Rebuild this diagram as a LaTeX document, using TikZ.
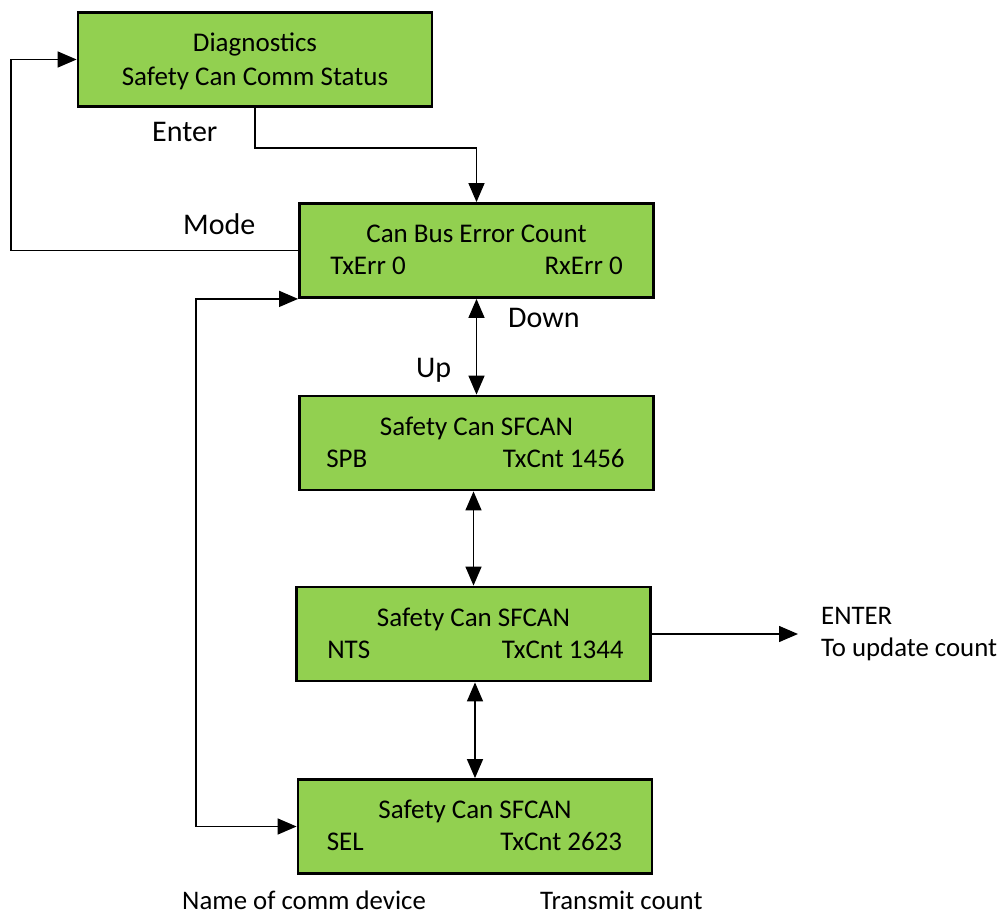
\documentclass[tikz,border=0pt]{standalone}
\usepackage{fontspec}
\setmainfont{Carlito}
\usetikzlibrary{arrows.meta,calc}
\definecolor{boxgreen}{HTML}{92D050}
\begin{document}
\begin{tikzpicture}[x=1pt,y=-1pt,
  box/.style={draw=black,line width=2.8pt,fill=boxgreen,minimum width=354pt,minimum height=94pt,inner sep=0pt},
  btxt/.style={font=\fontsize{27}{33}\selectfont,inner sep=0pt},
  lbl/.style={font=\fontsize{30}{36}\selectfont,inner sep=0pt,anchor=base west},
  note/.style={font=\fontsize{26.8}{32}\selectfont,inner sep=0pt,anchor=base west},
  conn/.style={line width=1.4pt},
  tip/.style={-{Triangle[length=19pt,width=16pt]}},
  tips/.style={{Triangle[length=19pt,width=16pt]}-{Triangle[length=19pt,width=16pt]}}
]
\useasboundingbox (0,0) rectangle (1005,915);

% boxes
\node[box] (b1) at (255,59.5) {};
\node[box] (b2) at (476.5,250.5) {};
\node[box] (b3) at (476.5,443) {};
\node[box] (b4) at (473.5,634) {};
\node[box] (b5) at (475,826.5) {};

% box texts
\node[btxt,anchor=base] (t1a) at ($(b1.center)+(0,-8)$) {Diagnostics};
\node[btxt,anchor=base] (t1b) at ($(b1.center)+(0,26)$) {Safety Can Comm Status};

\node[btxt,anchor=base] (t2a) at ($(b2.center)+(0,-8)$) {Can Bus Error Count};
\node[btxt,anchor=base west] (t2b) at ($(b2.west)+(32,24)$) {TxErr 0};
\node[btxt,anchor=base east] (t2c) at ($(b2.east)+(-32,24)$) {RxErr 0};

\node[btxt,anchor=base] (t3a) at ($(b3.center)+(0,-8)$) {Safety Can SFCAN};
\node[btxt,anchor=base west] (t3b) at ($(b3.west)+(28,24)$) {SPB};
\node[btxt,anchor=base east] (t3c) at ($(b3.east)+(-30,24)$) {TxCnt 1456};

\node[btxt,anchor=base] (t4a) at ($(b4.center)+(0,-8)$) {Safety Can SFCAN};
\node[btxt,anchor=base west] (t4b) at ($(b4.west)+(32,24)$) {NTS};
\node[btxt,anchor=base east] (t4c) at ($(b4.east)+(-28,24)$) {TxCnt 1344};

\node[btxt,anchor=base] (t5a) at ($(b5.center)+(0,-8)$) {Safety Can SFCAN};
\node[btxt,anchor=base west] (t5b) at ($(b5.west)+(30,24)$) {SEL};
\node[btxt,anchor=base east] (t5c) at ($(b5.east)+(-31,24)$) {TxCnt 2623};

% labels
\node[lbl] (lenter) at (152,142) {Enter};
\node[lbl] (lmode) at (183,235) {Mode};
\node[lbl] (ldown) at (508,327) {Down};
\node[lbl] (lup) at (416,377) {Up};
\node[note] (n1) at (182,909) {Name of comm device};
\node[note] (n2) at (540,909) {Transmit count};
\node[note,anchor=west,align=left,font=\fontsize{26.8}{32}\selectfont] (enter) at (821,634) {ENTER\\To update count};

% connectors
\draw[conn,tip] (b1.south) -- ++(0,40) -| (b2.north);
\draw[conn,tip] (b2.west) -- ++(-287,0) |- (b1.west);
\draw[conn,tips] (b2.south west) -- ++(-102,0) |- (b5.west);
\draw[conn,tips] (b2.south) -- (b3.north);
\draw[conn,tips] (b3.south -| b4.north) -- (b4.north);
\draw[conn,tips] (b4.south -| b5.north) -- (b5.north);
\draw[conn,tip,shorten >=23pt] (b4.east) -- (b4.east -| enter.west);
\end{tikzpicture}
\end{document}
